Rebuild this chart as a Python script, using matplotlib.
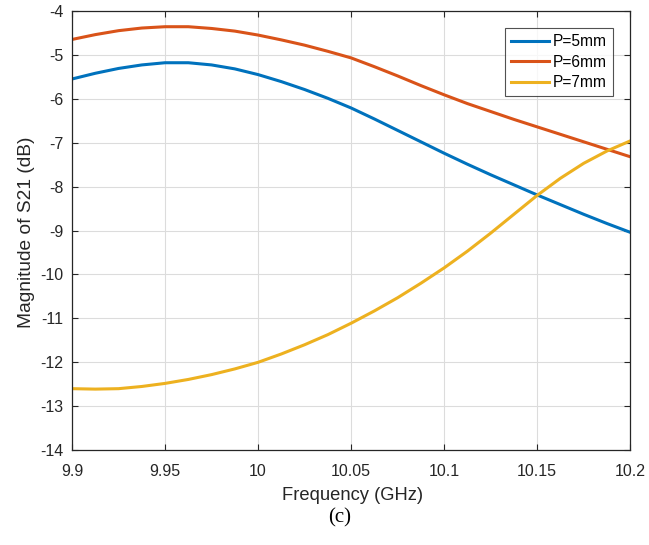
import numpy as np
import matplotlib.pyplot as plt

# frequency samples (GHz)
freq = [9.9, 9.9125, 9.925, 9.9375, 9.95, 9.9625, 9.975, 9.9875, 10.0,
        10.0125, 10.025, 10.0375, 10.05, 10.0625, 10.075, 10.0875, 10.1,
        10.1125, 10.125, 10.1375, 10.15, 10.1625, 10.175, 10.1875, 10.2]

# |S21| in dB
s21_p5 = [-5.55, -5.42, -5.31, -5.23, -5.18, -5.18, -5.23, -5.32, -5.45,
          -5.61, -5.79, -5.99, -6.21, -6.46, -6.72, -6.98, -7.24,
          -7.49, -7.73, -7.96, -8.19, -8.41, -8.63, -8.84, -9.04]
s21_p6 = [-4.65, -4.54, -4.45, -4.39, -4.36, -4.36, -4.40, -4.46, -4.55,
          -4.66, -4.78, -4.92, -5.07, -5.27, -5.48, -5.70, -5.91,
          -6.11, -6.29, -6.47, -6.64, -6.81, -6.98, -7.15, -7.32]
s21_p7 = [-12.60, -12.61, -12.60, -12.55, -12.48, -12.39, -12.28, -12.15, -12.00,
          -11.81, -11.60, -11.37, -11.11, -10.83, -10.53, -10.20, -9.85,
          -9.47, -9.06, -8.63, -8.20, -7.81, -7.47, -7.19, -6.96]

labels = ["P=5mm", "P=6mm", "P=7mm"]
colors = ["#0072BD", "#D95319", "#EDB120"]

xticks = [9.9, 9.95, 10.0, 10.05, 10.1, 10.15, 10.2]
xticklabels = ["9.9", "9.95", "10", "10.05", "10.1", "10.15", "10.2"]
yticks = list(range(-14, -3))

plt.rcParams["font.family"] = ["Liberation Sans", "DejaVu Sans"]
plt.rcParams["axes.unicode_minus"] = False
txt = "#262626"

fig = plt.figure(figsize=(6.49, 5.45), dpi=100)
ax = fig.add_axes([0.111, 0.174, 0.860, 0.806])

for y, lab, c in zip([s21_p5, s21_p6, s21_p7], labels, colors):
    ax.plot(freq, y, color=c, lw=2.2, label=lab, solid_joinstyle="round")

ax.set_xlim(9.9, 10.2)
ax.set_ylim(-14, -4)
ax.set_xticks(xticks)
ax.set_xticklabels(xticklabels)
ax.set_yticks(yticks)
ax.grid(True, color="#dcdcdc", lw=0.8)
ax.set_axisbelow(True)
ax.tick_params(direction="in", length=4, width=0.8, colors=txt, labelsize=11.5,
               top=True, right=True)
ax.tick_params(axis="x", pad=10)
ax.tick_params(axis="y", pad=6)
for s in ax.spines.values():
    s.set_color(txt)
    s.set_linewidth(0.9)

ax.set_xlabel("Frequency (GHz)", fontsize=13.2, color=txt, va="center")
ax.xaxis.set_label_coords(0.502, -0.1025)
ax.set_ylabel("Magnitude of S21 (dB)", fontsize=13.8, color=txt, va="center")
ax.yaxis.set_label_coords(-0.082, 0.497)

leg = ax.legend(loc="upper right", fontsize=11.2, frameon=True, fancybox=False,
                edgecolor=txt, handlelength=2.45, borderaxespad=1.1,
                borderpad=0.4, labelspacing=0.35, handletextpad=0.25)
leg.get_frame().set_linewidth(0.8)

fig.text(0.523, 0.05, "(c)", fontsize=15, family="Liberation Serif",
         ha="center", va="center")

fig.savefig("out.png", dpi=100)
